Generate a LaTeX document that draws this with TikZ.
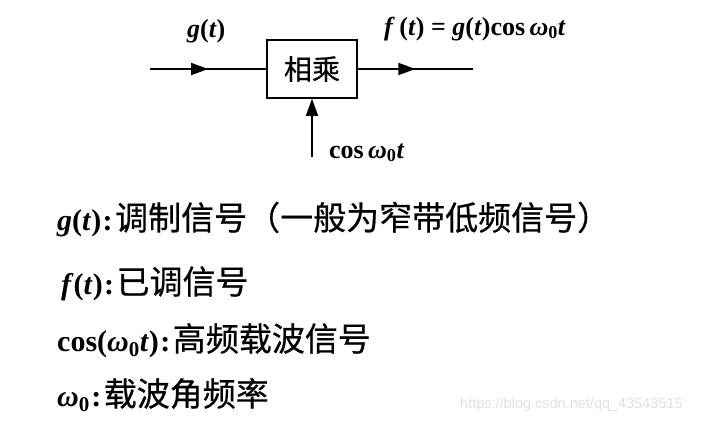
\documentclass[tikz,border=0pt]{standalone}
\usepackage{fontspec}
\setmainfont{Liberation Serif}
\newfontfamily\cjk[FakeBold=0.5]{Noto Sans CJK SC}
\newfontfamily\wmfont{Liberation Sans}
\usetikzlibrary{arrows.meta,decorations.markings}
\newcommand{\mv}[1]{\textbf{\textit{#1}}}
\newcommand{\wz}{\mv{ω}\textsubscript{\textbf{0}}}
\tikzset{
	sig/.style={line width=1.6pt},
	midarrow/.style={postaction={decorate},decoration={markings,
		mark=at position 0.5 with {\arrow{Triangle[length=17pt,width=12pt]}}}},
	lbl/.style={inner sep=0pt,anchor=base west,font=\bfseries\fontsize{26}{30}\selectfont},
	term/.style={inner sep=0pt,anchor=base west,font=\bfseries\fontsize{30}{34}\selectfont},
	expl/.style={inner sep=0pt,anchor=base west,font=\cjk\fontsize{33}{36}\selectfont}
}
\begin{document}
\begin{tikzpicture}[x=1pt,y=-1pt]
		\useasboundingbox (0,0) rectangle (712,424);
		% block
		\node[draw,sig,minimum width=90pt,minimum height=58pt,inner sep=0pt,
			font=\cjk\fontsize{28}{30}\selectfont] (mul) at (312,69) {相乘};
		\coordinate (in) at (150,69);
		\coordinate (out) at (473,69);
		\coordinate (carrier) at (312,157);
		\draw[sig,midarrow] (in) -- (mul.west);
		\draw[sig,midarrow] (mul.east) -- (out);
		\draw[sig,-{Triangle[length=17pt,width=12pt]}] (carrier) -- (mul.south);
		\node[lbl] (gin) at (187,37) {\mv{g}(\mv{t})};
		\node[lbl] (fout) at (384,35) {\mv{f}\,(\mv{t}) = \mv{g}(\mv{t})cos\,\wz\mv{t}};
		\node[lbl] (cw) at (329,158) {cos\,\wz\mv{t}};
		% legend
		\node[term] (t1) at (57,230) {\mv{g}(\mv{t})\kern1.5pt:};
		\node[expl] (e1) at ([xshift=2pt]t1.base east) {调制信号（一般为窄带低频信号）};
		\node[term] (t2) at (61,294) {\mv{f}(\mv{t})\kern1.5pt:};
		\node[expl] (e2) at ([xshift=2pt]t2.base east) {已调信号};
		\node[term] (t3) at (57,351) {cos(\wz\mv{t})\kern1.5pt:};
		\node[expl] (e3) at ([xshift=2pt]t3.base east) {高频载波信号};
		\node[term] (t4) at (57,406) {\wz\kern1.5pt:};
		\node[expl] (e4) at ([xshift=2pt]t4.base east) {载波角频率};
		\node[inner sep=0pt,anchor=base west,text=black!12,font=\wmfont\fontsize{14.5}{16}\selectfont]
			(wm) at (460,408) {https://blog.csdn.net/qq\_43543515};
\end{tikzpicture}
\end{document}
